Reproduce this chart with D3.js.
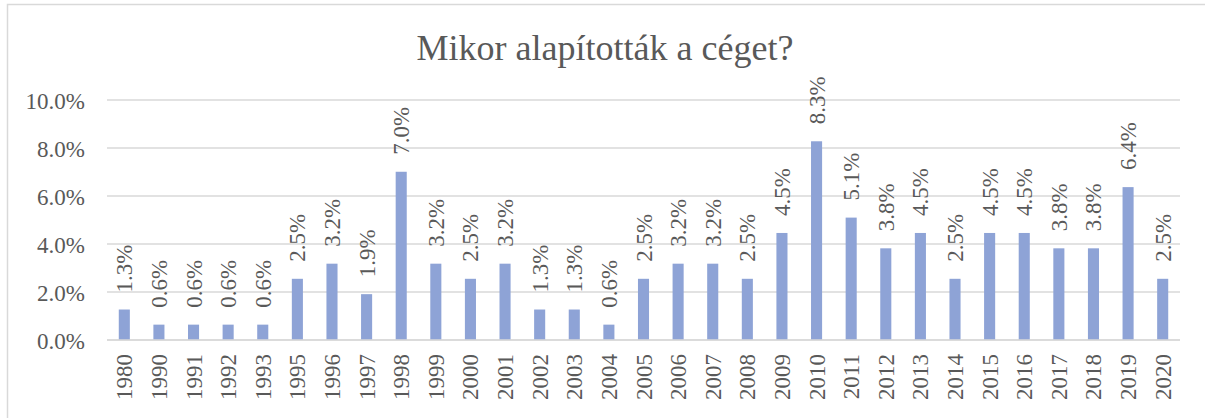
<!DOCTYPE html>
<html>
<head>
<meta charset="utf-8">
<script src="https://cdn.jsdelivr.net/npm/d3@7"></script>
<style>
  html, body { margin: 0; padding: 0; background: #fff; }
  svg { display: block; }
</style>
</head>
<body>
<svg id="chart" width="1205" height="418"></svg>
<script>
// --- data ---
const years = ["1980","1990","1991","1992","1993","1995","1996","1997","1998","1999",
  "2000","2001","2002","2003","2004","2005","2006","2007","2008","2009",
  "2010","2011","2012","2013","2014","2015","2016","2017","2018","2019","2020"];
const shares = [1.27,0.64,0.64,0.64,0.64,2.55,3.18,1.91,7.01,3.18,
  2.55,3.18,1.27,1.27,0.64,2.55,3.18,3.18,2.55,4.46,
  8.28,5.10,3.82,4.46,2.55,4.46,4.46,3.82,3.82,6.37,2.55];
const yTicks = [0, 2, 4, 6, 8, 10];
const title = "Mikor alapították a céget?";

const svg = d3.select("#chart");
const W = 1205, H = 418;
const textColor = "#595959";
const serif = "'Liberation Serif', 'Times New Roman', serif";

// chart frame
svg.append("rect")
  .attr("x", 7.5).attr("y", 4.5)
  .attr("width", W).attr("height", H)
  .attr("fill", "#fff").attr("stroke", "#d9d9d9").attr("stroke-width", 1.5);

const plot = {left: 107, right: 1180, top: 100, bottom: 340};

const x = d3.scaleBand().domain(years).range([plot.left, plot.right]).paddingInner(0.68).paddingOuter(0.34);
const y = d3.scaleLinear().domain([0, 10]).range([plot.bottom, plot.top]);

// title
svg.append("text")
  .attr("x", 605).attr("y", 60)
  .attr("text-anchor", "middle")
  .attr("fill", textColor)
  .attr("font-family", serif)
  .attr("font-size", 36)
  .text(title);

// gridlines
svg.append("g").selectAll("line")
  .data(yTicks).join("line")
  .attr("x1", plot.left).attr("x2", plot.right)
  .attr("y1", d => y(d)).attr("y2", d => y(d))
  .attr("stroke", "#d9d9d9").attr("stroke-width", 1.5);

// y axis labels
const yAxis = svg.append("g")
  .attr("transform", `translate(${plot.left},0)`)
  .call(d3.axisLeft(y).tickValues(yTicks).tickSize(0).tickPadding(22).tickFormat(d => d.toFixed(1) + "%"));
yAxis.attr("font-family", serif).attr("font-size", 23);
yAxis.select(".domain").remove();
yAxis.selectAll("text")
  .attr("fill", textColor)
  .attr("dy", "0.35em");

// bars
svg.append("g").selectAll("rect")
  .data(shares).join("rect")
  .attr("x", (d, i) => x(years[i]))
  .attr("y", d => y(d))
  .attr("width", x.bandwidth())
  .attr("height", d => y(0) - y(d))
  .attr("fill", "#8ea3d6");

// value labels
svg.append("g")
  .attr("font-family", serif)
  .attr("font-size", 23)
  .selectAll("text")
  .data(shares).join("text")
  .attr("transform", (d, i) => `translate(${x(years[i]) + x.bandwidth() / 2 + 8},${y(d) - 17}) rotate(-90)`)
  .attr("text-anchor", "start")
  .attr("fill", textColor)
  .text(d => d.toFixed(1) + "%");

// baseline
svg.append("line")
  .attr("x1", plot.left).attr("x2", plot.right)
  .attr("y1", y(0)).attr("y2", y(0))
  .attr("stroke", "#d9d9d9").attr("stroke-width", 1.5);

// x axis labels
const xAxis = svg.append("g")
  .attr("transform", `translate(0,${plot.bottom})`)
  .call(d3.axisBottom(x).tickSize(0).tickPadding(0));
xAxis.attr("font-family", serif).attr("font-size", 23);
xAxis.select(".domain").remove();
xAxis.selectAll("text")
  .attr("transform", "translate(8,14) rotate(-90)")
  .attr("text-anchor", "end")
  .attr("dy", 0).attr("y", 0).attr("x", 0)
  .attr("fill", textColor);
</script>
</body>
</html>
